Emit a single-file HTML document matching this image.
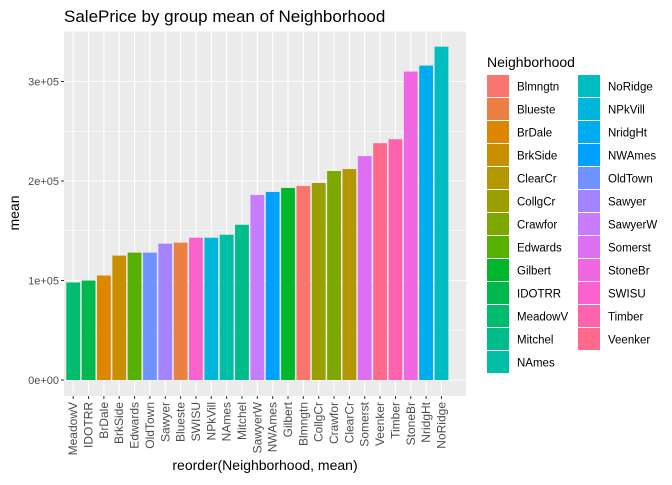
<!DOCTYPE html>
<html><head><meta charset="utf-8"><style>
body{margin:0;background:#fff;font-family:"Liberation Sans",sans-serif;}
svg text{font-family:"Liberation Sans",sans-serif;}
</style></head><body>
<svg id="chart" width="672" height="480" xmlns="http://www.w3.org/2000/svg">
<text x="64" y="22" font-size="17" fill="#000">SalePrice by group mean of Neighborhood</text>
<rect x="64" y="31" width="402" height="365" fill="#EBEBEB"/>
<g id="grid"></g><g id="bars"></g><g id="axes"></g><g id="legend"></g>
<text transform="translate(19,213) rotate(-90)" text-anchor="middle" font-size="14">mean</text>
<text x="265" y="470" text-anchor="middle" font-size="14">reorder(Neighborhood, mean)</text>
</svg>
<script>
const levels=["Blmngtn","Blueste","BrDale","BrkSide","ClearCr","CollgCr","Crawfor","Edwards","Gilbert","IDOTRR","MeadowV","Mitchel","NAmes","NoRidge","NPkVill","NridgHt","NWAmes","OldTown","Sawyer","SawyerW","Somerst","StoneBr","SWISU","Timber","Veenker"];
const colors=["#F8766D","#EB8044","#DD8700","#C98F00","#B49700","#9A9F00","#7CA800","#55B000","#00B62B","#00B94E","#00BC6E","#00BD8B","#00BFA6","#00BDC2","#00B6DB","#00ACF0","#00A0FF","#6F92FF","#A383FF","#C77CFF","#DD6FF2","#F066E3","#FB61CC","#FF63AD","#FF6A8C"];
const categories=["MeadowV","IDOTRR","BrDale","BrkSide","Edwards","OldTown","Sawyer","Blueste","SWISU","NPkVill","NAmes","Mitchel","SawyerW","NWAmes","Gilbert","Blmngtn","CollgCr","Crawfor","ClearCr","Somerst","Veenker","Timber","StoneBr","NridgHt","NoRidge"];
const values=[98000,100000,105000,125000,128000,128000,137000,138000,143000,143000,146000,156000,186000,189000,193000,195000,198000,210000,212000,225000,238000,242000,310000,316000,335000];
const yTicks=[0,100000,200000,300000];
const yTickLabels=["0e+00","1e+05","2e+05","3e+05"];
const NS="http://www.w3.org/2000/svg";
const px0=64,px1=466,py0=31,py1=396;
const n=categories.length,band=(px1-px0)/(n+1.2);
function x(i){return px0+(0.6+i)*band;}
function y(v){return 380-v/100000*99.5;}
function mk(t,a,p){const e=document.createElementNS(NS,t);for(const k in a)e.setAttribute(k,a[k]);p.appendChild(e);return e;}
const grid=document.getElementById('grid'),bars=document.getElementById('bars'),axes=document.getElementById('axes'),leg=document.getElementById('legend');
for(let k=0;k<yTicks.length;k++){
 const yy=y(yTicks[k]);
 const g=mk('line',{x1:px0,x2:px1,y1:yy,y2:yy,stroke:'#fff','stroke-width':1.1},grid);
 
 
 if(k<yTicks.length-1){const ym=y((yTicks[k]+yTicks[k+1])/2);
 const m=mk('line',{x1:px0,x2:px1,y1:ym,y2:ym,stroke:'#fff','stroke-width':0.5},grid);
 
 }
 const tk=mk('line',{x1:px0-3,x2:px0,y1:yy,y2:yy,stroke:'#333','stroke-width':1},axes);
 
 
 const t=mk('text',{x:px0-5,y:yy+4,'text-anchor':'end','font-size':11,fill:'#4D4D4D'},axes);
 t.textContent=yTickLabels[k];
 
 
}
{const ym=y(350000);const m=mk('line',{x1:px0,x2:px1,y1:ym,y2:ym,stroke:'#fff','stroke-width':0.5},grid);

}
for(let i=0;i<n;i++){
 const cx=x(i);
 const gl=mk('line',{x1:cx,x2:cx,y1:py0,y2:py1,stroke:'#fff','stroke-width':1.1},grid);
 
 
 const w=band*0.9,top=y(values[i]);
 const r=mk('rect',{x:cx-w/2,y:top,width:w,height:y(0)-top,fill:colors[levels.indexOf(categories[i])]},bars);
 
 
 const tk=mk('line',{x1:cx,x2:cx,y1:py1,y2:py1+3,stroke:'#333','stroke-width':1},axes);
 
 
 const t=mk('text',{transform:`translate(${cx+4},${py1+6}) rotate(-90)`,'text-anchor':'end','font-size':12,fill:'#4D4D4D'},axes);
 t.textContent=categories[i];
 
 
}
const lt=mk('text',{x:487,y:67,'font-size':14},leg);
lt.textContent='Neighborhood';


for(let k=0;k<levels.length;k++){
 const col=k<13?0:1,row=k<13?k:k-13;
 const kx=col?578:487,ky=75+row*23;
 const g=mk('g',{},leg);
 
 
 mk('rect',{x:kx,y:ky,width:22,height:22,fill:colors[k]},g);
 const t=mk('text',{x:kx+30,y:ky+15.5,'font-size':11.5},g);
 t.textContent=levels[k];
}
</script>
</body></html>
